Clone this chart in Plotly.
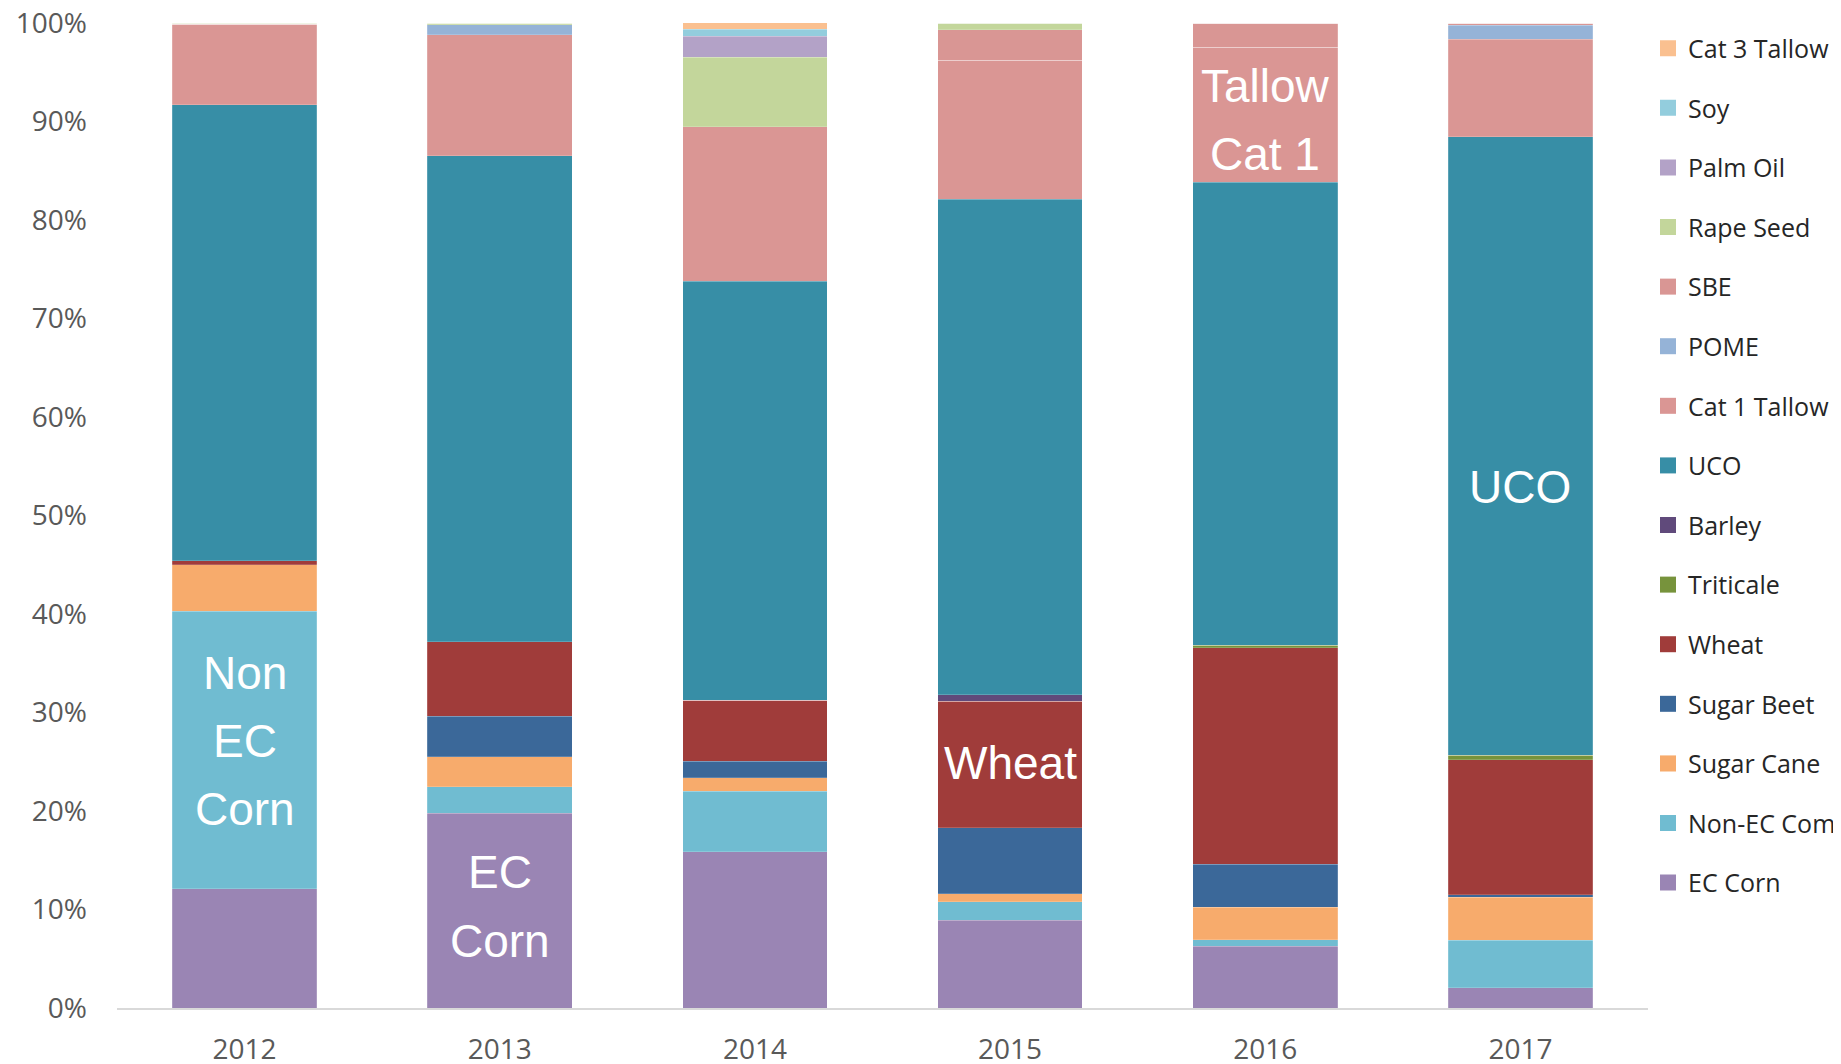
import plotly.graph_objects as go

years = ["2012", "2013", "2014", "2015", "2016", "2017"]

# share of each feedstock per year, in % (stacked bottom to top)
ec_corn = [12.1, 19.75, 15.85, 8.9, 6.27, 2.06]
non_ec_corn = [28.2, 2.7, 6.15, 1.9, 0.67, 4.8]
sugar_cane = [4.7, 3.05, 1.36, 0.8, 3.3, 4.4]
sugar_beet = [0.0, 4.1, 1.7, 6.7, 4.35, 0.25]
wheat = [0.4, 7.6, 6.2, 12.85, 22.0, 13.7]
triticale = [0.0, 0.0, 0.0, 0.0, 0.25, 0.45]
barley = [0.0, 0.0, 0.0, 0.65, 0.0, 0.0]
uco = [46.3, 49.3, 42.5, 50.3, 47.0, 62.8]
cat1_tallow = [8.15, 12.3, 15.7, 14.1, 13.7, 9.9]
pome = [0.0, 1.0, 0.0, 0.0, 0.0, 1.4]
sbe = [0.0, 0.0, 0.0, 3.1, 2.46, 0.24]
rape_seed = [0.15, 0.2, 7.05, 0.7, 0.0, 0.0]
palm_oil = [0.0, 0.0, 2.17, 0.0, 0.0, 0.0]
soy = [0.0, 0.0, 0.68, 0.0, 0.0, 0.0]
cat3_tallow = [0.0, 0.0, 0.65, 0.0, 0.0, 0.0]

series = [
    ("EC Corn", ec_corn, "#9A85B4"),
    ("Non-EC Com", non_ec_corn, "#70BCD1"),
    ("Sugar Cane", sugar_cane, "#F7AB6C"),
    ("Sugar Beet", sugar_beet, "#3B6899"),
    ("Wheat", wheat, "#A03C3A"),
    ("Triticale", triticale, "#77933C"),
    ("Barley", barley, "#604A7B"),
    ("UCO", uco, "#378EA6"),
    ("Cat 1 Tallow", cat1_tallow, "#DA9694"),
    ("POME", pome, "#95B3D7"),
    ("SBE", sbe, "#D99694"),
    ("Rape Seed", rape_seed, "#C3D69B"),
    ("Palm Oil", palm_oil, "#B3A2C7"),
    ("Soy", soy, "#93CDDD"),
    ("Cat 3 Tallow", cat3_tallow, "#FAC090"),
]

# white labels written inside the bars
label_x = ["2012", "2012", "2012", "2013", "2013", "2015", "2016", "2016", "2017"]
label_y = [34.0, 27.1, 20.2, 13.8, 6.8, 24.9, 93.6, 86.7, 52.9]
label_text = ["Non", "EC", "Corn", "EC", "Corn", "Wheat", "Tallow", "Cat 1", "UCO"]

fig = go.Figure()
for name, vals, col in series:
    fig.add_trace(go.Bar(x=years, y=vals, name=name, legendgroup=name,
                         showlegend=False,
                         marker=dict(color=col,
                                     line=dict(color="rgba(255,255,255,0.3)", width=0.6))))

# legend entries with bigger square swatches, listed top to bottom like the original
for name, vals, col in reversed(series):
    fig.add_trace(go.Scatter(x=[None], y=[None], mode="markers", name=name,
                             legendgroup=name,
                             marker=dict(symbol="square", size=16, color=col)))

for lx, ly, lt in zip(label_x, label_y, label_text):
    fig.add_annotation(x=years.index(lx), y=ly, text=lt, showarrow=False,
                       font=dict(family="Liberation Sans, Arial", size=46, color="white"))

# margins allow for the 8px body margin of the html page
fig.update_layout(
    barmode="stack", bargap=0.433,
    width=1841, height=1064,
    margin=dict(l=109, r=201, t=15, b=64, autoexpand=False),
    plot_bgcolor="white", paper_bgcolor="white",
    font=dict(family="Open Sans", color="#595959"),
    showlegend=True,
    legend=dict(traceorder="grouped", tracegroupgap=24.1,
                x=1.0, xanchor="left", y=0.5508, yanchor="middle",
                font=dict(family="Open Sans", size=25, color="#262626"),
                bgcolor="rgba(0,0,0,0)"),
    xaxis=dict(type="category", range=[-0.5, 5.5], showline=True,
               linecolor="#D9D9D9", linewidth=2,
               ticks="", tickfont=dict(size=28, color="#595959"),
               ticklabelstandoff=15, automargin=False,
               ticklabeloverflow="allow"),
    yaxis=dict(range=[0, 100], dtick=10, ticksuffix="%", showgrid=False,
               zeroline=False, showline=False, automargin=False,
               ticklabeloverflow="allow",
               tickfont=dict(size=28, color="#595959"), ticklabelstandoff=29),
)

fig.write_html("out.html")
